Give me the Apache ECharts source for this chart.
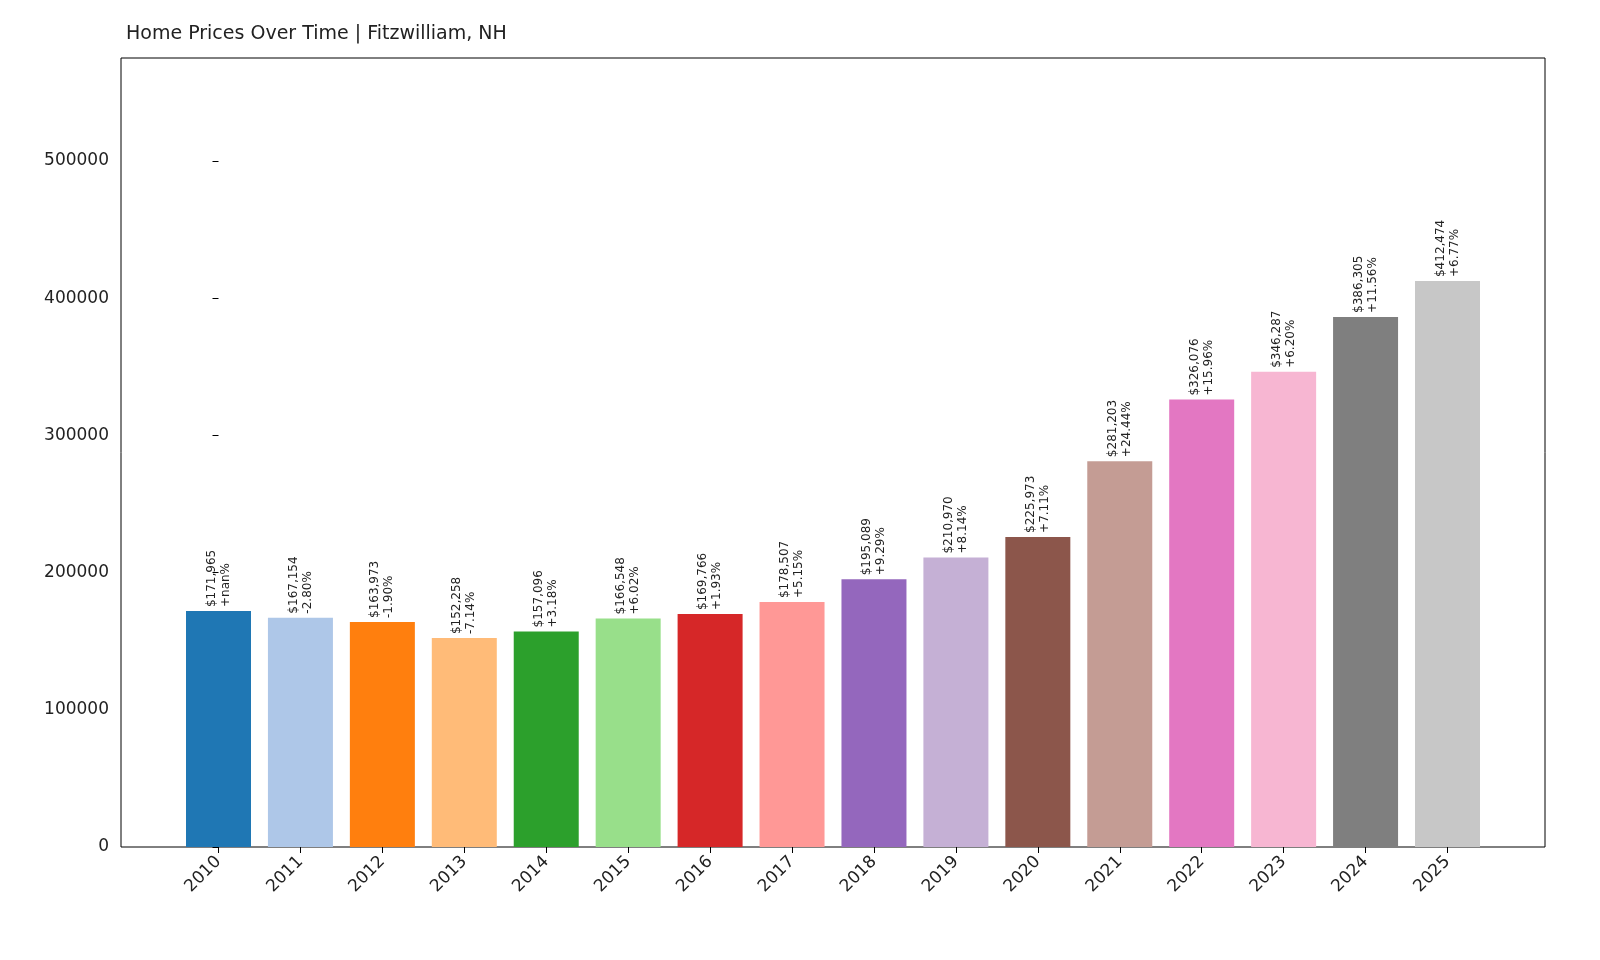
<!DOCTYPE html>
<html><head><meta charset="utf-8">
<script src="https://cdn.jsdelivr.net/npm/echarts@6/dist/echarts.min.js"></script>
<style>html,body{margin:0;padding:0;background:#fff}#c{width:1600px;height:960px}</style>
</head><body><div id="c"></div>
<script>
const years = ['2010','2011','2012','2013','2014','2015','2016','2017','2018','2019','2020','2021','2022','2023','2024','2025'];
const prices = [171965,167154,163973,152258,157096,166548,169766,178507,195089,210970,225973,281203,326076,346287,386305,412474];
const changes = ['+nan%','-2.80%','-1.90%','-7.14%','+3.18%','+6.02%','+1.93%','+5.15%','+9.29%','+8.14%','+7.11%','+24.44%','+15.96%','+6.20%','+11.56%','+6.77%'];
const colors = ['#1f77b4','#aec7e8','#ff7f0e','#ffbb78','#2ca02c','#98df8a','#d62728','#ff9896','#9467bd','#c5b0d5','#8c564b','#c49c94','#e377c2','#f7b6d2','#7f7f7f','#c7c7c7'];
const fmt = v => '$' + v.toLocaleString('en-US');
const chart = echarts.init(document.getElementById('c'));
const idx = years.map((_, i) => i);
chart.setOption({
  animation: false,
  title: {text: 'Home Prices Over Time | Fitzwilliam, NH', left: 121, top: 20,
    textStyle: {fontSize: 19, fontWeight: 'normal', color: '#222', fontFamily: 'DejaVu Sans'}},
  grid: {left: 121, right: 55, top: 58, bottom: 113, show: true, borderColor: '#000', borderWidth: 1},
  xAxis: {type: 'value', min: -1.19, max: 16.19,
    axisLine: {show: false}, splitLine: {show: false},
    axisTick: {show: true, customValues: idx, length: 6, lineStyle: {color: '#000'}},
    axisLabel: {customValues: idx, formatter: v => years[Math.round(v)], rotate: 45, margin: 12,
      fontSize: 17, color: '#222', fontFamily: 'DejaVu Sans'}},
  yAxis: {type: 'value', min: 0, max: 575000, interval: 100000,
    axisLine: {show: false}, splitLine: {show: false},
    axisTick: {show: true, length: 6, lineStyle: {color: '#000'}},
    axisLabel: {formatter: v => v > 500000 ? '' : String(v), showMaxLabel: false,
      fontSize: 17, color: '#222', fontFamily: 'DejaVu Sans', margin: 12}},
  series: [{type: 'bar', barWidth: 65,
    data: prices.map((p, i) => ({value: [i, p], itemStyle: {color: colors[i]}})),
    label: {show: true, position: 'top', rotate: 90, align: 'left', verticalAlign: 'middle', distance: 4,
      fontSize: 12, color: '#222', fontFamily: 'DejaVu Sans', lineHeight: 14,
      formatter: p => fmt(prices[p.dataIndex]) + '\n' + changes[p.dataIndex]}}]
});
</script></body></html>
